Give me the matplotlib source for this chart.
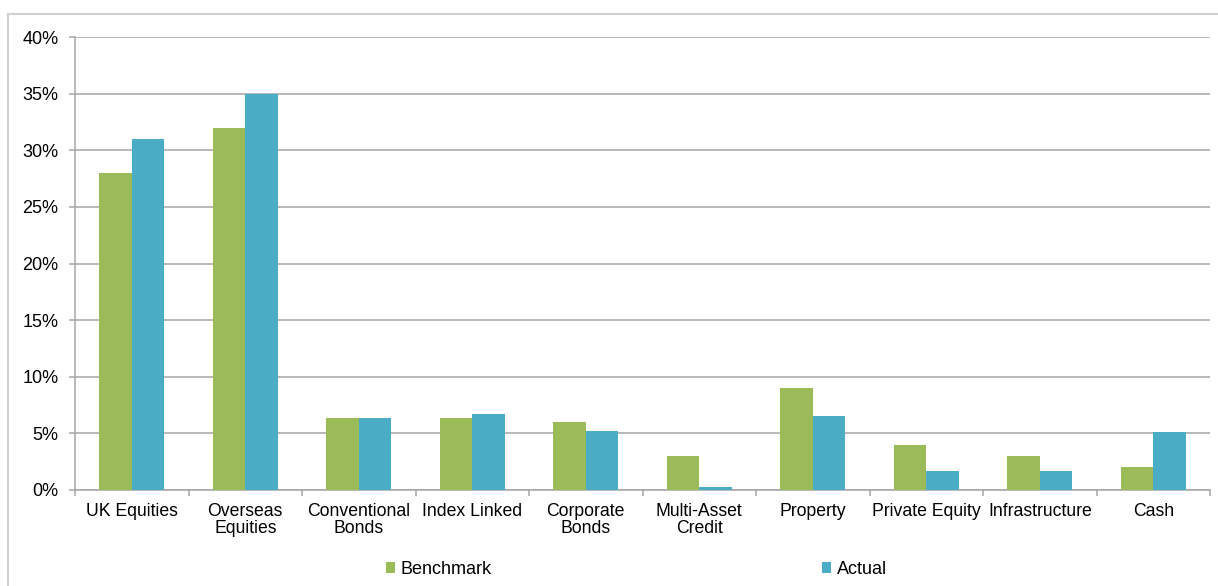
import numpy as np
import matplotlib
matplotlib.use('Agg')
import matplotlib.pyplot as plt
from matplotlib.lines import Line2D
from matplotlib.ticker import FuncFormatter, FixedLocator

plt.rcParams['font.family'] = ['Liberation Sans', 'DejaVu Sans']

# Data (percent of fund)
categories = ['UK Equities', 'Overseas\nEquities', 'Conventional\nBonds', 'Index Linked',
              'Corporate\nBonds', 'Multi-Asset\nCredit', 'Property', 'Private Equity',
              'Infrastructure', 'Cash']
benchmark = [28.0, 32.0, 6.4, 6.4, 6.0, 3.0, 9.0, 4.0, 3.0, 2.0]
actual = [31.0, 35.0, 6.4, 6.75, 5.25, 0.25, 6.5, 1.65, 1.65, 5.1]

green = '#9BBB59'
blue = '#4BACC6'
grid_col = '#A6A6A6'

W, H = 1218, 586
fig = plt.figure(figsize=(W / 100, H / 100), dpi=100)
ax = fig.add_axes([75 / W, (H - 490) / H, 1135 / W, 453 / H])

# light frame round the chart (top and left visible)
fig.add_artist(Line2D([8 / W, 1.0], [(H - 14) / H] * 2, color='#D0D0D0', lw=1.5,
                      transform=fig.transFigure))
fig.add_artist(Line2D([8 / W] * 2, [0, (H - 14) / H], color='#D0D0D0', lw=1.5,
                      transform=fig.transFigure))

x = np.arange(len(categories))
bw = 0.286
ax.bar(x - bw / 2, benchmark, bw, color=green, label='Benchmark', zorder=3)
ax.bar(x + bw / 2, actual, bw, color=blue, label='Actual', zorder=3)

ax.set_xlim(-0.5, len(categories) - 0.5)
ax.set_ylim(0, 40)
ax.set_yticks(np.arange(0, 41, 5))
ax.yaxis.set_major_formatter(FuncFormatter(lambda v, p: f'{v:.0f}%'))
ax.grid(axis='y', color=grid_col, lw=1.1, zorder=0)

ax.set_xticks(x)
ax.set_xticklabels(categories, fontsize=12.7, linespacing=1.05)
ax.xaxis.set_minor_locator(FixedLocator(np.arange(-0.5, len(categories), 1.0)))
ax.tick_params(axis='x', which='major', length=0, pad=9)
ax.tick_params(axis='x', which='minor', length=4.3, color=grid_col, width=1.1)
ax.tick_params(axis='y', length=4.3, color=grid_col, width=1.1, labelsize=13, pad=7.5)

for s in ['top', 'right']:
    ax.spines[s].set_visible(False)
for s in ['left', 'bottom']:
    ax.spines[s].set_color(grid_col)
    ax.spines[s].set_linewidth(1.1)

ax.legend(loc='center', bbox_to_anchor=(0.4947, -0.175), ncol=2, frameon=False,
          fontsize=13, handlelength=0.5, handleheight=0.5, handletextpad=0.3,
          columnspacing=18.3, borderpad=0, borderaxespad=0)

fig.savefig('out.png', dpi=100)
